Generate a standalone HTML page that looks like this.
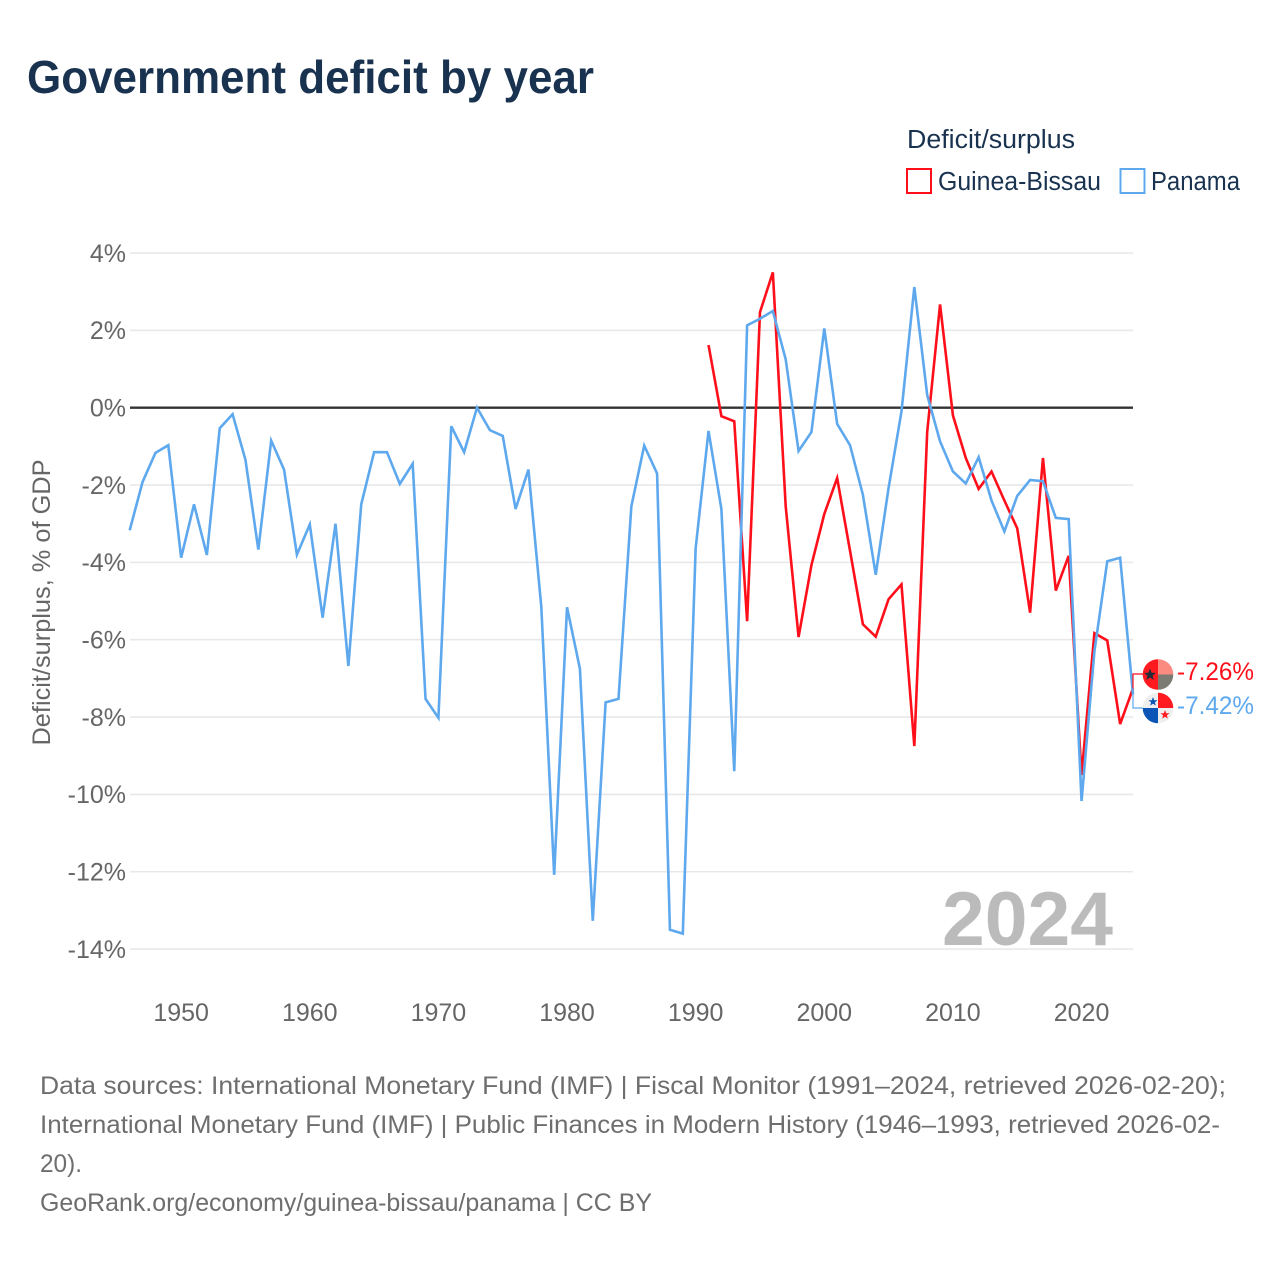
<!DOCTYPE html>
<html lang="en">
<head>
<meta charset="utf-8">
<title>Government deficit by year</title>
<style>
html,body{margin:0;padding:0;background:#fff;}
svg{display:block;font-family:"Liberation Sans",sans-serif;}
</style>
</head>
<body>
<svg id="chart" xmlns="http://www.w3.org/2000/svg" width="1280" height="1280" viewBox="0 0 1280 1280">
  <rect x="0" y="0" width="1280" height="1280" fill="#fff"/>
  <text x="27" y="93" font-size="46" font-weight="700" fill="#18324f" textLength="567" lengthAdjust="spacingAndGlyphs">Government deficit by year</text>
  <g>
    <text x="907" y="148" font-size="25.5" fill="#18324f" textLength="168" lengthAdjust="spacingAndGlyphs">Deficit/surplus</text>
    <rect x="907" y="169" width="24" height="24" fill="#fff" stroke="#ff0f1a" stroke-width="2"/>
    <text x="938" y="190" font-size="25.5" fill="#18324f" textLength="163" lengthAdjust="spacingAndGlyphs">Guinea-Bissau</text>
    <rect x="1120.5" y="169" width="24" height="24" fill="#fff" stroke="#5ea8ee" stroke-width="2"/>
    <text x="1151" y="190" font-size="25.5" fill="#18324f" textLength="89" lengthAdjust="spacingAndGlyphs">Panama</text>
  </g>
  <g id="grid"></g>
  <g id="y-ticks"></g>
  <g id="x-ticks"></g>
  <text transform="translate(50,602.5) rotate(-90)" text-anchor="middle" font-size="25" fill="#666" textLength="286" lengthAdjust="spacingAndGlyphs">Deficit/surplus, % of GDP</text>
  <text x="942" y="945" font-size="76" font-weight="700" fill="#bbb" textLength="171" lengthAdjust="spacingAndGlyphs">2024</text>
  <g id="series"></g>
  <g id="end-labels"></g>
  <g transform="translate(1,-0.5)">
    <clipPath id="clip-gw"><circle cx="1157" cy="675" r="15.3"/></clipPath>
    <g clip-path="url(#clip-gw)">
      <rect x="1141" y="659" width="16" height="32" fill="#ff1a1f"/>
      <rect x="1157" y="659" width="16" height="16" fill="#fb8a80"/>
      <rect x="1157" y="675" width="16" height="16" fill="#7b7b72"/>
      <polygon points="1149,669 1150.6,673.2 1155,673.4 1151.5,676.2 1152.8,680.5 1149,678 1145.2,680.5 1146.5,676.2 1143,673.4 1147.4,673.2" fill="#222b38"/>
    </g>
  </g>
  <g transform="translate(1,0)">
    <clipPath id="clip-pa"><circle cx="1157" cy="708" r="15.3"/></clipPath>
    <g clip-path="url(#clip-pa)">
      <rect x="1141" y="692" width="32" height="32" fill="#eeeeee"/>
      <rect x="1157" y="692" width="16" height="16" fill="#ff1a1f"/>
      <rect x="1141" y="708" width="16" height="16" fill="#0a55b5"/>
      <polygon points="1152,697 1153.2,700.2 1156.5,700.3 1153.9,702.4 1154.8,705.6 1152,703.8 1149.2,705.6 1150.1,702.4 1147.5,700.3 1150.8,700.2" fill="#0a55b5"/>
      <polygon points="1164,710 1165.2,713.2 1168.5,713.3 1165.9,715.4 1166.8,718.6 1164,716.8 1161.2,718.6 1162.1,715.4 1159.5,713.3 1162.8,713.2" fill="#ff1a1f"/>
    </g>
  </g>
  <g font-size="25" fill="#6e6e6e">
    <text x="40" y="1094" textLength="1186" lengthAdjust="spacingAndGlyphs">Data sources: International Monetary Fund (IMF) | Fiscal Monitor (1991–2024, retrieved 2026-02-20);</text>
    <text x="40" y="1133" textLength="1180" lengthAdjust="spacingAndGlyphs">International Monetary Fund (IMF) | Public Finances in Modern History (1946–1993, retrieved 2026-02-</text>
    <text x="40" y="1172" textLength="42" lengthAdjust="spacingAndGlyphs">20).</text>
    <text x="40" y="1211" textLength="612" lengthAdjust="spacingAndGlyphs">GeoRank.org/economy/guinea-bissau/panama | CC BY</text>
  </g>
</svg>
<script>
const yTickValues = [4, 2, 0, -2, -4, -6, -8, -10, -12, -14];
const xTickYears = [1950, 1960, 1970, 1980, 1990, 2000, 2010, 2020];
const panamaStartYear = 1946;
const panamaValues = [
  -3.17, -1.92, -1.17, -0.97, -3.88, -2.5, -3.81, -0.53, -0.17, -1.35,
  -3.67, -0.85, -1.6, -3.8, -3.02, -5.43, -3.0, -6.68, -2.5, -1.15,
  -1.15, -1.97, -1.45, -7.53, -8.02, -0.48, -1.15, 0.0, -0.58, -0.73,
  -2.62, -1.6, -5.15, -12.08, -5.16, -6.75, -13.27, -7.62, -7.53, -2.55,
  -0.98, -1.7, -13.5, -13.6, -3.63, -0.6, -2.62, -9.4, 2.13, 2.3,
  2.5, 1.25, -1.12, -0.63, 2.05, -0.42, -0.97, -2.25, -4.32, -2.07,
  -0.1, 3.12, 0.33, -0.87, -1.65, -1.96, -1.28, -2.4, -3.2, -2.28,
  -1.87, -1.9, -2.85, -2.88, -10.17, -6.3, -3.97, -3.88, -7.42
];
const guineaStartYear = 1991;
const guineaValues = [
  1.62, -0.22, -0.35, -5.52, 2.47, 3.5, -2.55, -5.93, -4.07, -2.75,
  -1.82, -3.7, -5.6, -5.92, -4.95, -4.57, -8.75, -0.63, 2.67, -0.2,
  -1.3, -2.1, -1.65, -2.4, -3.12, -5.3, -1.3, -4.73, -3.83, -9.5,
  -5.83, -6.02, -8.18, -7.26
];

const NS = 'http://www.w3.org/2000/svg';
const xAxis = year => 129.7 + (year - 1946) * (1133 - 129.7) / 78;
const yAxis = value => 407.7 - value * 38.67;
const make = (tag, attrs, parent, content) => {
  const el = document.createElementNS(NS, tag);
  for (const k in attrs) el.setAttribute(k, attrs[k]);
  if (content !== undefined) el.textContent = content;
  parent.appendChild(el);
  return el;
};
const gridG = document.getElementById('grid');
const yG = document.getElementById('y-ticks');
const xG = document.getElementById('x-ticks');
const seriesG = document.getElementById('series');
const endG = document.getElementById('end-labels');

yTickValues.filter(v => v !== 0).forEach(v => {
  const line = make('line', {x1: 130, x2: 1133, y1: yAxis(v), y2: yAxis(v), stroke: '#e8e8e8', 'stroke-width': 1.6}, gridG);
  
  
});
yTickValues.forEach(v => {
  const label = make('text', {x: 126, y: yAxis(v) + 8.8, 'text-anchor': 'end', 'font-size': 25, fill: '#666'}, yG, v + '%');
  
  
});
xTickYears.forEach(y => {
  const label = make('text', {x: xAxis(y), y: 1021, 'text-anchor': 'middle', 'font-size': 25, fill: '#666'}, xG, String(y));
  
  
});
const zero = make('line', {x1: 130, x2: 1133, y1: yAxis(0), y2: yAxis(0), stroke: '#333', 'stroke-width': 2.4}, gridG);



const pathOf = (start, values) => values.map((v, i) => (i ? 'L' : 'M') + xAxis(start + i).toFixed(2) + ' ' + yAxis(v).toFixed(2)).join(' ');

const RED = '#ff0f1a', BLUE = '#5ea8ee';
const lastG = guineaValues[guineaValues.length - 1];
const lastP = panamaValues[panamaValues.length - 1];

const leaderG = make('path', {d: 'M1133 ' + yAxis(lastG).toFixed(2) + ' V674 H1143', fill: 'none', stroke: RED, 'stroke-width': 1.2}, endG);


const leaderP = make('path', {d: 'M1133 ' + yAxis(lastP).toFixed(2) + ' V708 H1143', fill: 'none', stroke: BLUE, 'stroke-width': 1.2}, endG);



const lineG = make('path', {d: pathOf(guineaStartYear, guineaValues), fill: 'none', stroke: RED, 'stroke-width': 2.6, 'stroke-linejoin': 'miter'}, seriesG);


const lineP = make('path', {d: pathOf(panamaStartYear, panamaValues), fill: 'none', stroke: BLUE, 'stroke-width': 2.6, 'stroke-linejoin': 'miter'}, seriesG);



const labelG = make('text', {x: 1177, y: 680, 'font-size': 25, fill: RED, textLength: 77, lengthAdjust: 'spacingAndGlyphs'}, endG, lastG.toFixed(2) + '%');


const labelP = make('text', {x: 1177, y: 714, 'font-size': 25, fill: BLUE, textLength: 77, lengthAdjust: 'spacingAndGlyphs'}, endG, lastP.toFixed(2) + '%');


</script>
</body>
</html>
